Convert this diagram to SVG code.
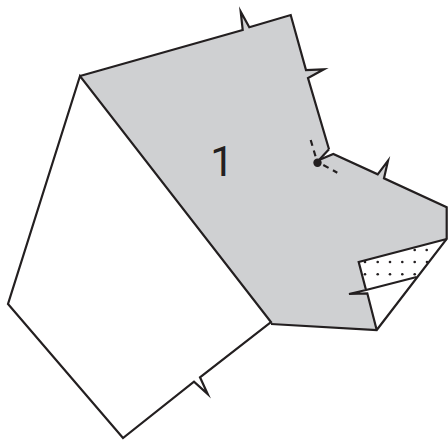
<svg xmlns="http://www.w3.org/2000/svg" width="448" height="440" viewBox="0 0 448 440">
<style>
.o{fill:none;stroke:#231f20;stroke-width:2.200;stroke-linejoin:miter;stroke-miterlimit:10}
.d{fill:#231f20}
</style>
<rect width="448" height="440" fill="#fff"/>
<g id="gray-face">
<path d="M80 76L242.700 30L240.700 11.700L249.300 27.300L290.700 15L306 70L324 69.300L308 78L329 149.300L319 160L333.300 154L377.700 174.300L388 160.700L384 178.300L446.700 207.300V239L376.700 330L271 324L80 76Z" fill="#cfd0d2"/>
<text x="222" y="176" text-anchor="middle" font-family="Roboto, sans-serif" font-size="42" fill="#231f20">1</text>
</g>
<g id="white-face">
<path d="M80 76L8 304L123 438L194 381.700L207.700 394L200 377.300L271 322Z" fill="#fff" class="o"/>
</g>
<g id="flap">
<path d="M446.700 239L358.700 262L366 290L349 294L367.300 293.300L376.700 330Z" fill="#fff"/>
<path d="M446.700 239L358.700 262L366 290L416.700 277Z" fill="#fff"/>
<g class="d">
<circle cx="414.700" cy="250" r="1.300"/><circle cx="426.700" cy="250" r="1.300"/>
<circle cx="365" cy="262" r="1.300"/><circle cx="377.700" cy="262" r="1.300"/><circle cx="390" cy="262" r="1.300"/><circle cx="402.300" cy="262" r="1.300"/><circle cx="414.700" cy="262" r="1.300"/><circle cx="427" cy="262" r="1.300"/>
<circle cx="365" cy="274.300" r="1.300"/><circle cx="377.700" cy="274.300" r="1.300"/><circle cx="390" cy="274.300" r="1.300"/><circle cx="402.300" cy="274.300" r="1.300"/><circle cx="414.700" cy="274.300" r="1.300"/>
</g>
</g>
<g id="connectors">
<path class="o" d="M271 324L376.700 330L446.700 239V207.300L384 178.300L388 160.700L377.700 174.300L333.300 154L319 160M329 149.300L308 78L324 69.300L306 70L290.700 15L249.300 27.300L240.700 11.700L242.700 30L80 76"/>
<path class="o" d="M329 149.300L319 160"/>
<path class="o" d="M446.700 239L358.700 262L366 290L349 294L367.300 293.300L376.700 330M366 290L416.700 277"/>
<path class="o" d="M310.700 140L316 158M323.300 165L337.300 172.700" stroke-dasharray="6 5"/>
<circle class="d" cx="317.500" cy="162.700" r="4.200"/>
</g>
</svg>
